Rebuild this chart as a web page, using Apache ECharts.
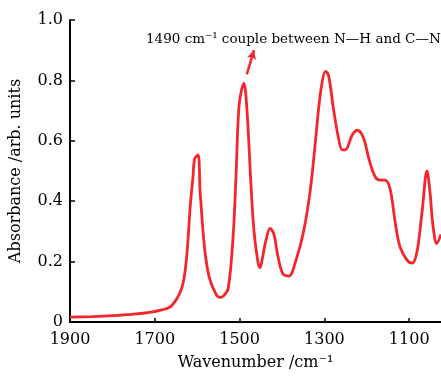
<!DOCTYPE html>
<html>
<head>
<meta charset="utf-8">
<script src="https://cdn.jsdelivr.net/npm/echarts@6/dist/echarts.min.js"></script>
<style>
  html, body { margin: 0; padding: 0; background: #fff; }
  #chart { width: 441px; height: 376px; }
</style>
</head>
<body>
<div id="chart"></div>
<script>
// wavenumber (cm-1) and absorbance
const wavenumbers = [1900, 1850, 1800, 1750, 1708, 1684, 1661, 1637, 1626, 1616, 1610, 1606, 1598, 1593,
  1583, 1572, 1555, 1545, 1539, 1527, 1515, 1508, 1501, 1490, 1483, 1473, 1466, 1457, 1452, 1445,
  1438, 1428, 1419, 1410, 1398, 1384, 1368, 1349, 1333, 1321, 1309, 1297, 1290, 1279, 1267, 1258,
  1251, 1234, 1222, 1208, 1194, 1180, 1168, 1157, 1145, 1133, 1122, 1105, 1093, 1082, 1070, 1058,
  1051, 1044, 1035, 1025];
const absorbance = [0.016, 0.018, 0.021, 0.026, 0.033, 0.04, 0.053, 0.11, 0.2, 0.39, 0.48, 0.54, 0.553, 0.43,
  0.25, 0.15, 0.09, 0.082, 0.085, 0.11, 0.29, 0.5, 0.72, 0.79, 0.71, 0.45, 0.3, 0.2, 0.18, 0.22,
  0.27, 0.31, 0.29, 0.22, 0.16, 0.152, 0.2, 0.3, 0.44, 0.6, 0.76, 0.83, 0.815, 0.71, 0.61, 0.57,
  0.57, 0.62, 0.635, 0.61, 0.535, 0.48, 0.47, 0.47, 0.44, 0.33, 0.25, 0.205, 0.195, 0.23, 0.36, 0.5,
  0.43, 0.32, 0.26, 0.29];
const xTicks = [1900, 1700, 1500, 1300, 1100];
// annotation arrow (data coords): tail, head
const arrowFrom = [1483, 0.82];
const arrowTo = [1466, 0.9];
const noteText = '1490 cm\u207B\u00B9 couple between N\u2014H and C\u2014N';

const FONT = 'DejaVu Serif';
const RED = '#f4262c';

const chart = echarts.init(document.getElementById('chart'));

const option = {
  animation: false,
  backgroundColor: '#fff',
  grid: { left: 68, right: 0, top: 20, bottom: 48 },
  xAxis: {
    type: 'value',
    inverse: true,
    min: 1025,
    max: 1900,
    name: 'Wavenumber /cm\u207B\u00B9',
    nameLocation: 'middle',
    nameGap: 33,
    nameTextStyle: { fontFamily: FONT, fontSize: 16, color: '#000' },
    axisLine: { show: true, lineStyle: { color: '#000', width: 2 } },
    axisTick: { show: true, inside: true, length: 4, customValues: xTicks, lineStyle: { color: '#000', width: 1.5 } },
    axisLabel: {
      customValues: xTicks, fontFamily: FONT, fontSize: 16, color: '#000', margin: 10,
      formatter: (v) => String(v)
    },
    splitLine: { show: false }
  },
  yAxis: {
    type: 'value',
    min: 0,
    max: 1,
    interval: 0.2,
    name: 'Absorbance /arb. units',
    nameLocation: 'middle',
    nameGap: 46,
    nameTextStyle: { fontFamily: FONT, fontSize: 16, color: '#000' },
    axisLine: { show: true, lineStyle: { color: '#000', width: 2 } },
    axisTick: { show: true, inside: true, length: 5, lineStyle: { color: '#000', width: 1.5 } },
    axisLabel: {
      fontFamily: FONT, fontSize: 16, color: '#000', margin: 7,
      formatter: (v) => (v === 0 ? '0' : v.toFixed(1))
    },
    splitLine: { show: false }
  },
  graphic: [
    {
      type: 'text',
      left: 146,
      top: 32,
      style: { text: noteText, fontFamily: FONT, fontSize: 13.5, fill: '#000' }
    }
  ],
  series: [
    {
      type: 'line',
      data: wavenumbers.map((w, i) => [w, absorbance[i]]),
      smooth: 0.35,
      showSymbol: false,
      lineStyle: { color: RED, width: 2.8 },
      markLine: {
        silent: true,
        symbol: ['none', 'arrow'],
        symbolSize: [7, 9],
        label: { show: false },
        lineStyle: { color: RED, width: 2.5, type: 'solid' },
        data: [[{ coord: arrowFrom }, { coord: arrowTo }]]
      }
    }
  ]
};

chart.setOption(option);
</script>
</body>
</html>
